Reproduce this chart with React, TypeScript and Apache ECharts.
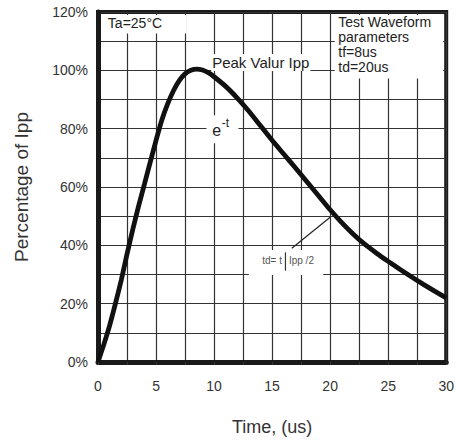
import React, { useEffect, useRef } from 'react';
import * as echarts from 'echarts';

const timeUs = [0, 0.5, 1, 1.5, 2, 2.5, 3, 3.5, 4, 4.5, 5, 5.5, 6, 6.5, 7, 7.5, 8, 8.5, 9, 9.5, 10, 11, 12, 13, 14, 15, 16, 17, 18, 19, 20, 21, 22, 23, 24, 25, 26, 27, 28, 29, 30];
const percentIpp = [0, 6, 12.5, 20, 28, 37, 45.5, 53.5, 61, 68.5, 76, 83, 88.5, 93, 96.5, 98.8, 100, 100.4, 100.1, 99.2, 97.8, 94.5, 90.5, 86, 81, 76, 71.3, 66.6, 61.8, 57, 52.2, 47.8, 43.8, 40.3, 37.3, 34.5, 31.8, 29.2, 26.7, 24.3, 22];
const xLabelValues = [0, 5, 10, 15, 20, 25, 30];
const yLabelValues = [0, 20, 40, 60, 80, 100, 120];
const noteTa = 'Ta=25°C';
const notePeak = 'Peak Valur Ipp';
const noteWave = ['Test Waveform', 'parameters', 'tf=8us', 'td=20us'];
const noteTdLeft = 'td= t';
const noteTdRight = 'Ipp /2';

const FONT = '"Liberation Sans", Arial, Helvetica, sans-serif';

export default function App() {
  const ref = useRef<HTMLDivElement>(null);
  useEffect(() => {
    const chart = echarts.init(ref.current as HTMLDivElement, null, { renderer: 'svg' });
    chart.setOption({
      animation: false,
      backgroundColor: '#fff',
      textStyle: { fontFamily: FONT },
      grid: { left: 98, right: 8, top: 12, bottom: 84, show: true, borderColor: '#1a1a1a', borderWidth: 4, backgroundColor: '#fff' },
      xAxis: {
        type: 'value', min: 0, max: 30, interval: 2.5,
        name: 'Time, (us)', nameLocation: 'middle', nameGap: 56,
        nameTextStyle: { fontSize: 18, color: '#333', fontFamily: FONT },
        axisLine: { show: true, lineStyle: { color: '#1a1a1a', width: 5 } },
        axisTick: { show: true, length: 3, lineStyle: { color: '#333' } },
        axisLabel: { margin: 17, fontSize: 14, color: '#333', fontFamily: FONT, formatter: (v: number) => (xLabelValues.includes(v) ? String(v) : '') },
        splitLine: { show: true, lineStyle: { color: '#333', width: 1.2 } },
      },
      yAxis: {
        type: 'value', min: 0, max: 120, interval: 10,
        name: 'Percentage of Ipp', nameLocation: 'middle', nameGap: 67, nameRotate: 90,
        nameTextStyle: { fontSize: 19, color: '#333', fontFamily: FONT },
        axisLine: { show: true, lineStyle: { color: '#1a1a1a', width: 5 } },
        axisTick: { show: false },
        axisLabel: { margin: 10, fontSize: 14, color: '#333', fontFamily: FONT, formatter: (v: number) => (yLabelValues.includes(v) ? v + '%' : '') },
        splitLine: { show: true, lineStyle: { color: '#333', width: 1.2 } },
      },
      series: [{
        type: 'line',
        data: timeUs.map((t, i) => [t, percentIpp[i]]),
        smooth: 0.2,
        showSymbol: false,
        z: 5,
        lineStyle: { color: '#111', width: 4.8 },
        markLine: {
          silent: true,
          symbol: ['none', 'arrow'],
          symbolSize: [0, 10],
          label: { show: false },
          lineStyle: { color: '#222', width: 1.2, type: 'solid' },
          data: [[{ coord: [16.7, 39] }, { coord: [20.0, 49.6] }]],
        },
      }],
    });

    const px = (x: number, y: number) => chart.convertToPixel({ gridIndex: 0 }, [x, y]) as number[];
    const box = (x0: number, y0: number, x1: number, y1: number, inset: number[]) => {
      const a = px(x0, y0);
      const b = px(x1, y1);
      return {
        type: 'rect', z: 3,
        shape: { x: a[0] + inset[0], y: a[1] + inset[1], width: b[0] - a[0] - inset[0] - inset[2], height: b[1] - a[1] - inset[1] - inset[3] },
        style: { fill: '#fff' },
        silent: true,
      };
    };
    const taPos = px(0.85, 116.4);
    const peakPos = px(9.75, 102.7);
    const ePos = px(9.85, 79.3);
    const wavePos = px(20.7, 119.0);
    const tdPos = px(15.85, 34.8);
    const barTop = px(16.15, 37.6);
    const barBot = px(16.15, 31.3);
    const ippPos = px(16.45, 34.8);

    chart.setOption({
      graphic: [
        box(0, 120, 7.6, 112.6, [3, 3, 0, 0]),
        box(20.4, 120, 30, 97.2, [0, 3, 3, 0]),
        box(9.35, 84.6, 12.1, 75, [0, 0, 0, 0]),
        box(13.0, 38.4, 19.4, 29.8, [0, 0, 0, 0]),
        { type: 'text', z: 6, x: taPos[0], y: taPos[1], style: { text: noteTa, fill: '#222', font: '14px ' + FONT, verticalAlign: 'middle', align: 'left' } },
        { type: 'text', z: 6, x: peakPos[0], y: peakPos[1], style: { text: notePeak, fill: '#222', font: '15px ' + FONT, verticalAlign: 'middle', align: 'left', backgroundColor: '#fff', padding: [1, 1, 1, 1] } },
        { type: 'text', z: 6, x: ePos[0], y: ePos[1], style: { text: 'e', fill: '#222', font: '16px ' + FONT, verticalAlign: 'middle', align: 'left' } },
        { type: 'text', z: 6, x: ePos[0] + 9.5, y: ePos[1] - 8, style: { text: '-t', fill: '#222', font: '12px ' + FONT, verticalAlign: 'middle', align: 'left' } },
        { type: 'text', z: 6, x: wavePos[0], y: wavePos[1], style: { text: noteWave.join('\n'), fill: '#222', font: '14px ' + FONT, lineHeight: 15, verticalAlign: 'top', align: 'left' } },
        { type: 'text', z: 6, x: tdPos[0], y: tdPos[1], style: { text: noteTdLeft, fill: '#555', font: '10px ' + FONT, verticalAlign: 'middle', align: 'right' } },
        { type: 'line', z: 6, shape: { x1: barTop[0], y1: barTop[1], x2: barBot[0], y2: barBot[1] }, style: { stroke: '#333', lineWidth: 1.2 } },
        { type: 'text', z: 6, x: ippPos[0], y: ippPos[1], style: { text: noteTdRight, fill: '#555', font: '10px ' + FONT, verticalAlign: 'middle', align: 'left' } },
      ],
    });

    return () => chart.dispose();
  }, []);
  return <div ref={ref} style={{ position: 'absolute', left: 0, top: 0, width: 457, height: 446 }} />;
}
